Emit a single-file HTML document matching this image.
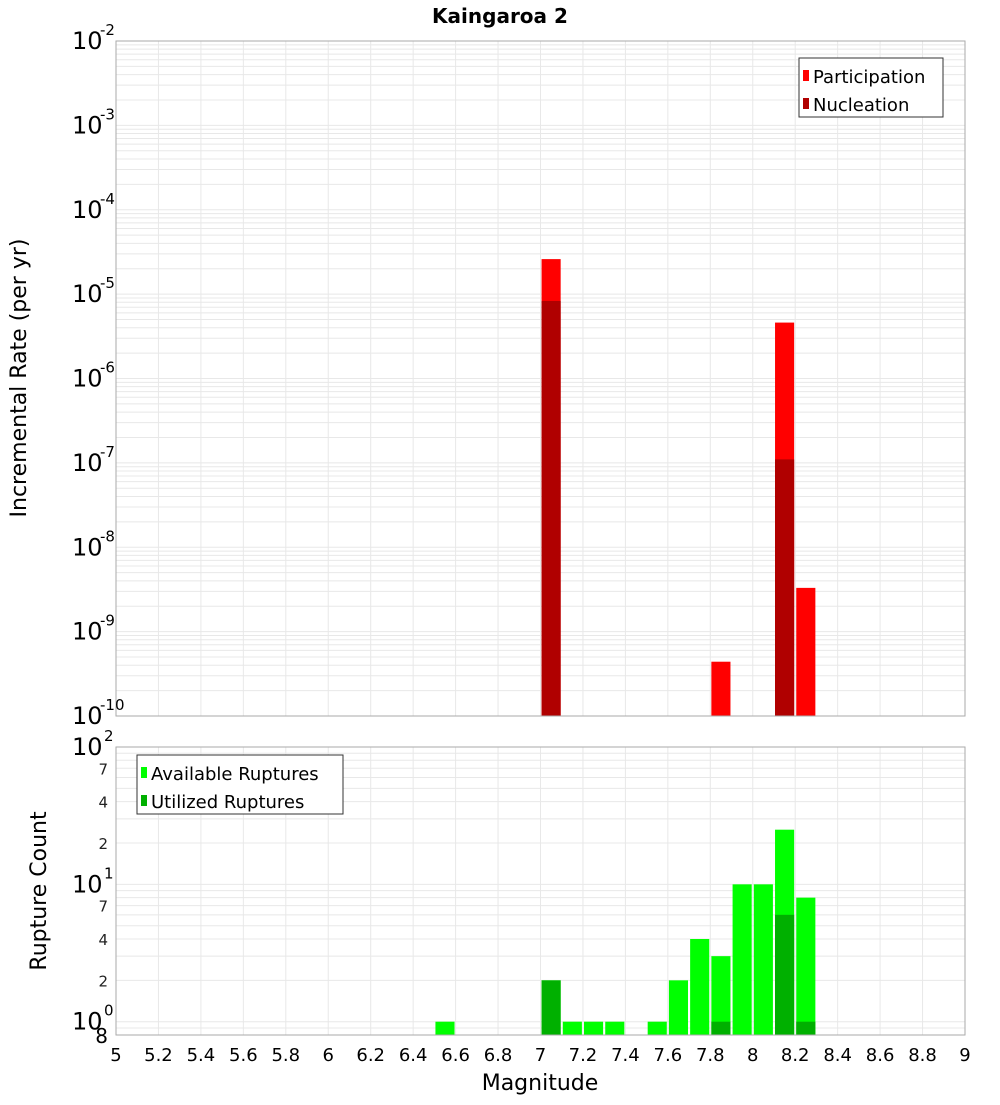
<!DOCTYPE html>
<html><head><meta charset="utf-8"><style>
body{margin:0;background:#fff;font-family:"Liberation Sans","DejaVu Sans",sans-serif}
svg text{font-family:"DejaVu Sans","Liberation Sans",sans-serif}
</style></head><body>
<svg id="c" width="1000" height="1100" xmlns="http://www.w3.org/2000/svg"></svg>
<script>
const binCenters=[6.55,7.05,7.15,7.25,7.35,7.55,7.65,7.75,7.85,7.95,8.05,8.15,8.25];
const participation=[0,2.6e-5,0,0,0,0,0,0,4.4e-10,0,0,4.6e-6,3.3e-9];
const nucleation=[0,8.3e-6,0,0,0,0,0,0,0,0,0,1.1e-7,0];
const available=[1,2,1,1,1,1,2,4,3,10,10,25,8];
const utilized=[0,2,0,0,0,0,0,0,1,0,0,6,1];
const xTicks=[5,5.2,5.4,5.6,5.8,6,6.2,6.4,6.6,6.8,7,7.2,7.4,7.6,7.8,8,8.2,8.4,8.6,8.8,9];
const topExps=[-10,-9,-8,-7,-6,-5,-4,-3,-2];
const botExps=[0,1,2];
const botMinorLabels=[2,4,7];

const NS="http://www.w3.org/2000/svg";
const svg=document.getElementById('c');
function el(tag,attrs,parent){const e=document.createElementNS(NS,tag);for(const k in attrs)e.setAttribute(k,attrs[k]);(parent||svg).appendChild(e);return e;}
const X0=116,X1=965;
const x=m=>X0+(m-5)/(9-5)*(X1-X0);
const T0=41,T1=716;
const yTop=v=>T1-(Math.log10(v)+10)/8*(T1-T0);
const B0=747,B1=1035;
const bLo=Math.log10(0.8),bHi=2;
const yBot=v=>B1-(Math.log10(v)-bLo)/(bHi-bLo)*(B1-B0);

// title
let t=el('text',{x:500,y:23,'text-anchor':'middle','font-size':20,'font-weight':'bold'});t.textContent='Kaingaroa 2';


function grid(yf,lo,hi,top,bottom,exps,isTop){
  const g=el('g',{});
  
  
  xTicks.forEach(m=>el('line',{x1:x(m),x2:x(m),y1:top,y2:bottom,stroke:'#e8e8e8'},g));
  for(let e=lo;e<=hi;e++)for(let k=1;k<10;k++){const v=k*Math.pow(10,e);const yy=yf(v);if(yy<top-0.5||yy>bottom+0.5)continue;el('line',{x1:X0,x2:X1,y1:yy,y2:yy,stroke:'#e8e8e8'},g);}
}
grid(yTop,-10,-3,T0,T1,topExps,true);
grid(yBot,-1,1,B0,B1,botExps,false);

// top bars
binCenters.forEach((m,i)=>{
  if(participation[i]>0){const r=el('rect',{x:x(m-0.045),y:yTop(participation[i]),width:x(m+0.045)-x(m-0.045),height:T1-yTop(participation[i]),fill:'#ff0000'});
  }
  if(nucleation[i]>0){const r=el('rect',{x:x(m-0.045),y:yTop(nucleation[i]),width:x(m+0.045)-x(m-0.045),height:T1-yTop(nucleation[i]),fill:'#b00000'});
  }
  if(available[i]>0){const r=el('rect',{x:x(m-0.045),y:yBot(available[i]),width:x(m+0.045)-x(m-0.045),height:B1-yBot(available[i]),fill:'#00ff00'});
  }
  if(utilized[i]>0){const r=el('rect',{x:x(m-0.045),y:yBot(utilized[i]),width:x(m+0.045)-x(m-0.045),height:B1-yBot(utilized[i]),fill:'#00b000'});
  }
});

// frames
let f=el('rect',{x:X0,y:T0,width:X1-X0,height:T1-T0,fill:'none',stroke:'#aaa'});

f=el('rect',{x:X0,y:B0,width:X1-X0,height:B1-B0,fill:'none',stroke:'#aaa'});


// top y labels
topExps.forEach(e=>{const yy=yTop(Math.pow(10,e));
  const tx=el('text',{x:72,y:yy+8,'font-size':24});tx.textContent='10';
  
  const s=el('text',{x:100,y:yy-6,'font-size':15});s.textContent=String(e);
  
});
// bottom y labels
botExps.forEach(e=>{const yy=yBot(Math.pow(10,e));
  const tx=el('text',{x:72,y:yy+8,'font-size':24});tx.textContent='10';
  
  const s=el('text',{x:104,y:yy-6,'font-size':15});s.textContent=String(e);
  
  if(e<2)botMinorLabels.forEach(k=>{const v=k*Math.pow(10,e);const m=el('text',{x:108,y:yBot(v)+6,'font-size':15,'text-anchor':'end','fill':'#222'});m.textContent=String(k);
    });
});
t=el('text',{x:108,y:B1+8,'font-size':20,'text-anchor':'end'});t.textContent='8';


// x labels
xTicks.forEach(m=>{const tx=el('text',{x:x(m),y:1061,'font-size':18,'text-anchor':'middle'});tx.textContent=String(m);
  });
t=el('text',{x:540,y:1090,'font-size':22,'text-anchor':'middle'});t.textContent='Magnitude';

t=el('text',{x:0,y:0,'font-size':22,'text-anchor':'middle',transform:'translate(26,378) rotate(-90)'});t.textContent='Incremental Rate (per yr)';

t=el('text',{x:0,y:0,'font-size':22,'text-anchor':'middle',transform:'translate(46,891) rotate(-90)'});t.textContent='Rupture Count';


// legends
function legend(x0,y0,w,h,items,name){
  const g=el('g',{});
  el('rect',{x:x0,y:y0,width:w,height:h,fill:'#fff',stroke:'#333'},g);
  items.forEach((it,i)=>{const yy=y0+18+i*28;
    const r=el('rect',{x:x0+4,y:yy-6,width:6,height:11,fill:it[1]},g);
    
    const tx=el('text',{x:x0+14,y:yy+7,'font-size':18},g);tx.textContent=it[0];
    });
}
legend(799,58,144,59,[['Participation','#ff0000'],['Nucleation','#b00000']],'top-legend');
legend(137,755,206,59,[['Available Ruptures','#00ff00'],['Utilized Ruptures','#00b000']],'bottom-legend');
</script>
</body></html>
